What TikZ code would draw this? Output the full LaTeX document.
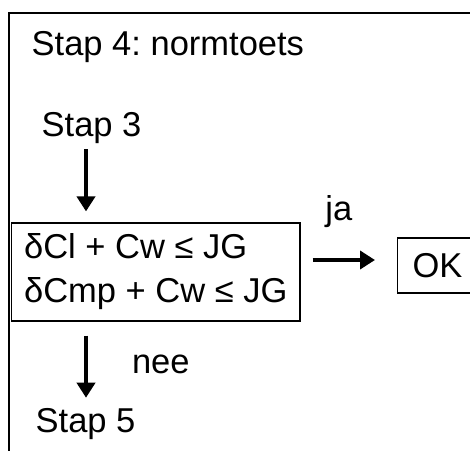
\documentclass[tikz,border=0pt]{standalone}
\usepackage{fontspec}
\setmainfont{Liberation Sans}
\usetikzlibrary{positioning, arrows.meta}
\frenchspacing

\begin{document}
\begin{tikzpicture}[x=1pt,y=-1pt,
  every node/.style={font=\fontsize{34.5}{44}\selectfont, inner sep=0pt},
  blok/.style={draw, line width=1.2pt},
  pijl/.style={-{Triangle[length=15pt,width=18pt]}, line width=4pt}]
\useasboundingbox (0,0) rectangle (470,450);
\clip (0,0) rectangle (470,450);
\draw[line width=2pt] (480,12.5) -- (8.5,12.5) -- (8.5,460);

\node[anchor=base west] (titel) at (31.5,55) {Stap 4: normtoets};
\node[anchor=base west] (stap3) at (41.5,136) {Stap 3};
\node[blok, minimum width=288.5pt, minimum height=98pt, align=left] (toets) at (155.75,272) {δCl + Cw ≤ JG\\δCmp + Cw ≤ JG};
\node[blok, anchor=west, minimum height=55pt, inner xsep=15pt] (ok) at (397,265.5) {OK};
\node[anchor=base west] (stap5) at (35.5,432) {Stap 5};

\coordinate (as) at (86,0);
\coordinate (jaend) at ([yshift=5.5pt]ok.west);

\draw[pijl, shorten <=6pt, shorten >=11pt] (stap3.south -| as) -- (toets.north -| as);
\draw[pijl, shorten <=12pt, shorten >=22pt] (toets.east |- jaend) -- node[above=30pt, xshift=-10pt] {ja} (jaend);
\draw[pijl, shorten <=14pt, shorten >=10pt] (toets.south -| as) -- node[right=44pt] {nee} (stap5.north -| as);
\end{tikzpicture}
\end{document}
